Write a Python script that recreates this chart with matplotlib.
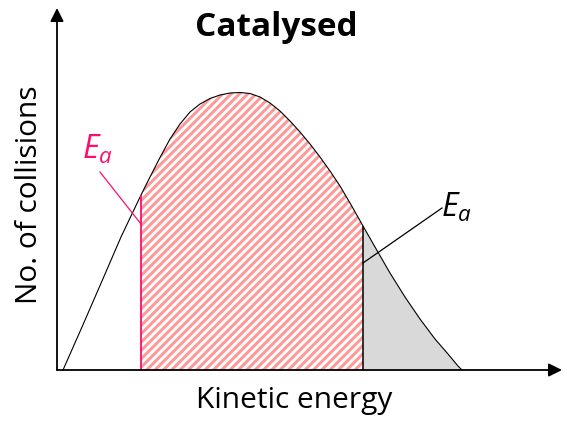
import numpy as np
import matplotlib.pyplot as plt

plt.rcParams['hatch.linewidth'] = 2.2
plt.rcParams['mathtext.fontset'] = 'custom'
plt.rcParams['mathtext.it'] = 'Open Sans:italic'
plt.rcParams['mathtext.rm'] = 'Open Sans'

# Distribution of collision energies (arbitrary units)
energy = np.array([6, 25, 45, 64, 84, 93, 103, 113, 123, 133, 143, 153, 163, 173,
                   183, 193, 203, 213, 223, 233, 243, 253, 263, 273, 283, 293,
                   306, 318, 333, 348, 363, 378, 391, 401, 405])
collisions = np.array([0, 43, 89, 133, 175, 193, 212.5, 231, 246, 258, 266, 271.5,
                       275, 277, 277.5, 276.5, 273, 267, 259, 249, 238, 226, 213,
                       199, 184, 167, 144, 123, 97, 73, 51, 31, 16, 4, 0])

ea_catalysed = 84      # lower activation energy
ea_uncatalysed = 306   # original activation energy

title = "Catalysed"
xlabel = "Kinetic energy"
ylabel = "No. of collisions"

pink = "#FF0D6E"
stripe = "#FF9999"

fig = plt.figure(figsize=(5.67, 4.21), dpi=100)
ax = fig.add_axes([0, 0, 1, 1])
ax.set_xlim(-57, 510)
ax.set_ylim(-51, 370)
ax.axis("off")

# shaded regions
hatched = (energy >= ea_catalysed) & (energy <= ea_uncatalysed)
ax.fill_between(energy, collisions, where=hatched, facecolor="none",
                edgecolor=stripe, hatch="////", linewidth=0)
grey = energy >= ea_uncatalysed
ax.fill_between(energy, collisions, where=grey, facecolor="#D9D9D9", linewidth=0)

# curve
ax.plot(energy, collisions, color="black", linewidth=0.8)

# activation energy markers
h_cat = collisions[energy == ea_catalysed][0]
h_unc = collisions[energy == ea_uncatalysed][0]
ax.vlines(ea_catalysed, 0, h_cat, color=pink, linewidth=1.3)
ax.vlines(ea_uncatalysed, 0, h_unc, color="black", linewidth=1.1)

# leader lines and labels
ax.plot([ea_catalysed, 43], [146, 198], color=pink, linewidth=0.9)
ax.plot([ea_uncatalysed, 385], [107, 162], color="black", linewidth=0.9)
ax.text(25, 211, r"$E_a$", color=pink, fontsize=23, ha="left", va="baseline")
ax.text(384, 153, r"$E_a$", color="black", fontsize=23, ha="left", va="baseline")

# axes with arrows
arrow = dict(arrowstyle="-|>", mutation_scale=20, color="black", lw=1.3,
             shrinkA=0, shrinkB=0)
ax.annotate("", xy=(0, 362), xytext=(0, 0), arrowprops=arrow)
ax.annotate("", xy=(505, 0), xytext=(0, 0), arrowprops=arrow)

# text
ax.text(219, 334, title, fontsize=24, fontweight="bold", family="Open Sans",
        ha="center", va="baseline")
ax.text(237, -38, xlabel, fontsize=21.5, family="Open Sans", ha="center", va="baseline")
ax.text(-20, 175, ylabel, fontsize=21.5, family="Open Sans", rotation=90,
        rotation_mode="anchor", ha="center", va="baseline")

fig.savefig("out.png", dpi=100)
